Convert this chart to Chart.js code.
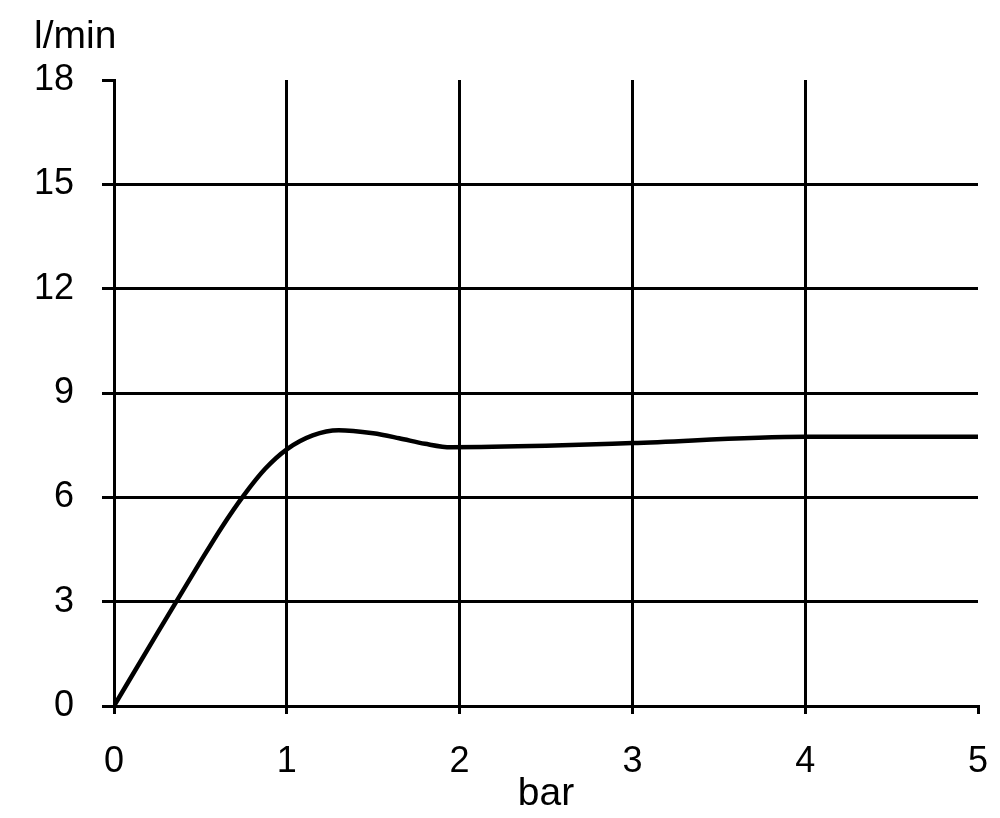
<!DOCTYPE html>
<html>
<head>
<meta charset="utf-8">
<script src="https://cdn.jsdelivr.net/npm/chart.js@4/dist/chart.umd.min.js"></script>
<style>
  html, body { margin: 0; padding: 0; background: #fff; }
  #wrap { width: 1000px; height: 818px; }
</style>
</head>
<body>
<div id="wrap"><canvas id="flowChart"></canvas></div>
<script>
// pressure (bar) vs flow (l/min)
const pressureBar = [0, 0.25, 0.5, 0.625, 0.75, 0.875, 1, 1.15, 1.3, 1.5, 1.65, 1.8, 1.95, 2.5, 3, 4, 5];
const flowLpm     = [0, 2.09, 4.15, 5.15, 6.05, 6.82, 7.38, 7.78, 7.93, 7.84, 7.7, 7.54, 7.44, 7.48, 7.56, 7.74, 7.74];

const xTicks = [0, 1, 2, 3, 4, 5];
const yTicks = [0, 3, 6, 9, 12, 15, 18];

const xTitle = "bar";
const yTitle = "l/min";

const font = { family: "'Liberation Sans', Arial, sans-serif", size: 36 };

// y unit label drawn above the axis top, like the original
const unitLabel = {
  id: "unitLabel",
  afterDraw(chart) {
    const y = chart.scales.y;
    const ctx = chart.ctx;
    ctx.save();
    ctx.font = "39px 'Liberation Sans', Arial, sans-serif";
    ctx.fillStyle = "#000";
    ctx.textAlign = "left";
    ctx.textBaseline = "middle";
    ctx.fillText(yTitle, chart.chartArea.left - 80, y.getPixelForValue(18) - 43);
    ctx.restore();
  }
};

const ctx = document.getElementById("flowChart").getContext("2d");
new Chart(ctx, {
  type: "line",
  data: {
    datasets: [{
      data: pressureBar.map((p, i) => ({ x: p, y: flowLpm[i] })),
      borderColor: "#000",
      borderWidth: 4.5,
      pointRadius: 0,
      fill: false,
      cubicInterpolationMode: "monotone"
    }]
  },
  options: {
    responsive: true,
    maintainAspectRatio: false,
    animation: false,
    layout: { padding: { left: 0, right: 22, top: 80, bottom: 0 } },
    plugins: {
      legend: { display: false },
      tooltip: { enabled: false }
    },
    scales: {
      x: {
        type: "linear",
        min: 0,
        max: 5,
        afterBuildTicks: s => { s.ticks = xTicks.map(v => ({ value: v })); },
        afterFit: s => { s.height = 112; s.paddingLeft = 0; s.paddingRight = 0; },
        ticks: { color: "#000", font: font, padding: 26, maxRotation: 0 },
        grid: {
          color: c => (c.tick && c.tick.value === 5 ? "rgba(0,0,0,0)" : "#000"),
          tickColor: "#000",
          lineWidth: 3,
          tickLength: 8
        },
        border: { display: true, color: "#000", width: 3 },
        title: { display: true, text: xTitle, color: "#000", font: { ...font, size: 39, lineHeight: 1 }, padding: { top: 0, bottom: 4 } }
      },
      y: {
        min: 0,
        max: 18,
        afterBuildTicks: s => { s.ticks = yTicks.map(v => ({ value: v })); },
        afterFit: s => { s.width = 114; },
        ticks: { color: "#000", font: font, padding: 28 },
        grid: {
          color: c => (c.tick && c.tick.value === 18 ? "rgba(0,0,0,0)" : "#000"),
          tickColor: "#000",
          lineWidth: 3,
          tickLength: 12
        },
        border: { display: true, color: "#000", width: 3 }
      }
    }
  },
  plugins: [unitLabel]
});
</script>
</body>
</html>
